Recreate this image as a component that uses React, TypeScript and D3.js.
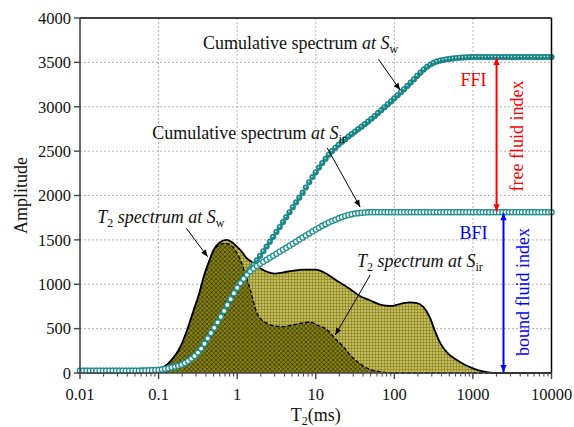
import React from 'react';
import * as d3 from 'd3';

// ---------- data ----------
// T2 bins: 24 bins per decade from 0.01 ms to 10000 ms (145 bins)
const BINS_PER_DECADE = 24;
const T2_START_EXP = -2;
const cumulativeSw = [
  25, 25, 25, 25, 25, 25, 25, 25, 25, 25, 25, 25, 25, 25, 25, 25, 25, 25,
  26, 27, 28, 29, 31, 33, 35, 40, 46, 54, 63, 72, 82, 94, 112, 135, 162, 192,
  230, 275, 330, 390, 450, 510, 570, 634, 700, 766, 832, 898, 960, 1015, 1068,
  1120, 1170, 1220, 1270, 1320, 1372, 1425, 1480, 1534, 1590, 1645, 1700, 1756,
  1812, 1868, 1922, 1976, 2032, 2090, 2150, 2208, 2262, 2315, 2365, 2413, 2460,
  2500, 2538, 2572, 2605, 2635, 2664, 2692, 2720, 2748, 2776, 2804, 2834, 2864,
  2895, 2928, 2960, 2995, 3028, 3060, 3095, 3130, 3163, 3198, 3235, 3272, 3310,
  3348, 3385, 3420, 3450, 3475, 3495, 3510, 3520, 3528, 3535, 3540, 3545, 3549,
  3552, 3555, 3557, 3559,
  3560, 3560, 3560, 3560, 3560, 3560, 3560, 3560, 3560, 3560, 3560, 3560, 3560,
  3560, 3560, 3560, 3560, 3560, 3560, 3560, 3560, 3560, 3560, 3560, 3560,
];
const cumulativeSir = [
  25, 25, 25, 25, 25, 25, 25, 25, 25, 25, 25, 25, 25, 25, 25, 25, 25, 25,
  26, 27, 28, 29, 31, 33, 35, 40, 46, 54, 63, 72, 82, 94, 112, 135, 162, 192,
  230, 275, 330, 390, 450, 510, 570, 634, 700, 766, 832, 898,
  960, 1013, 1062, 1106, 1145, 1178, 1205, 1230, 1254, 1277, 1300, 1322, 1344,
  1366, 1388, 1410, 1433, 1456, 1480, 1503, 1527, 1550, 1573, 1595, 1617, 1638,
  1658, 1677, 1695, 1712, 1728, 1744, 1758, 1770, 1780, 1789, 1796, 1801, 1805,
  1808, 1810,
  1811, 1811, 1811, 1811, 1811, 1811, 1811, 1811, 1811, 1811, 1811, 1811, 1811,
  1811, 1811, 1811, 1811, 1811, 1811, 1811, 1811, 1811, 1811, 1811, 1811, 1811,
  1811, 1811, 1811, 1811, 1811, 1811, 1811, 1811, 1811, 1811, 1811, 1811, 1811,
  1811, 1811, 1811, 1811, 1811, 1811, 1811, 1811, 1811, 1811, 1811, 1811, 1811,
  1811, 1811, 1811, 1811,
];

// T2 spectra
const specSwT = [0.01, 0.04, 0.06, 0.08, 0.1, 0.13, 0.16, 0.19, 0.23, 0.28, 0.33, 0.375, 0.44, 0.5, 0.6, 0.73, 0.85, 1.0, 1.1, 1.3, 1.62, 2.0, 2.4, 3.0, 3.9, 5, 7, 10, 13, 18, 27, 36, 49, 66, 90, 120, 160, 190, 234, 285, 330, 383, 470, 624, 800, 1000, 1300, 1650, 2000, 10000];
const specSwA = [0, 0, 5, 20, 40, 100, 190, 296, 480, 710, 900, 1085, 1260, 1386, 1470, 1500, 1475, 1420, 1386, 1300, 1236, 1175, 1141, 1120, 1135, 1150, 1165, 1165, 1130, 1048, 950, 870, 820, 770, 755, 780, 795, 790, 745, 620, 470, 340, 230, 146, 90, 53, 20, 5, 0, 0];
const specSirT = [0.01, 0.04, 0.06, 0.08, 0.1, 0.13, 0.16, 0.19, 0.23, 0.28, 0.33, 0.375, 0.44, 0.5, 0.6, 0.7, 0.82, 0.95, 1.1, 1.3, 1.47, 1.79, 2.0, 2.4, 3.0, 3.9, 5.0, 6.9, 8.5, 10.4, 13.8, 18, 22.5, 27.5, 36, 49, 65, 80, 100, 10000];
const specSirA = [0, 0, 5, 20, 40, 100, 190, 296, 480, 710, 900, 1085, 1255, 1375, 1445, 1461, 1442, 1380, 1273, 1090, 935, 673, 610, 560, 530, 522, 540, 565, 575, 540, 490, 380, 296, 200, 109, 40, 15, 5, 0, 0];

const xTicks = [0.01, 0.1, 1, 10, 100, 1000, 10000];
const xTickLabels = ['0.01', '0.1', '1', '10', '100', '1000', '10000'];
const yTicks = [0, 500, 1000, 1500, 2000, 2500, 3000, 3500, 4000];

// ---------- layout ----------
const W = 574, H = 427;
const L = 80, R = 551.5, T = 18, B = 373;
const FONT = "'Liberation Serif', 'Times New Roman', Times, serif";

const x = d3.scaleLog().domain([0.01, 10000]).range([L, R]);
const y = d3.scaleLinear().domain([0, 4000]).range([B, T]);

const bins = cumulativeSw.map((_, i) => Math.pow(10, T2_START_EXP + i / BINS_PER_DECADE));

const area = (ts: number[], as: number[]) =>
  d3.area<number>().x((_, i) => x(ts[i])).y0(y(0)).y1((d) => y(d)).curve(d3.curveMonotoneX)(as) || '';
const line = (ts: number[], as: number[]) =>
  d3.line<number>().x((_, i) => x(ts[i])).y((d) => y(d)).curve(d3.curveMonotoneX)(as) || '';

const minorTicks: number[] = [];
[0.01, 0.1, 1, 10, 100, 1000].forEach((d) => {
  for (let k = 2; k <= 9; k++) minorTicks.push(d * k);
});

const TEAL = '#1c8e8e';

export default function App() {
  return (
    <svg width={W} height={H} style={{ position: 'absolute', left: 0, top: 0, background: '#fff', fontFamily: FONT }}>
      <defs>
        <pattern id="gridPat" width="3" height="3" patternUnits="userSpaceOnUse">
          <rect width="3" height="3" fill="#c4bc62" />
          <path d="M0 0.5H3M0.5 0V3" stroke="#928b26" strokeWidth="0.8" />
        </pattern>
        <pattern id="crossPat" width="4.5" height="4.5" patternUnits="userSpaceOnUse">
          <rect width="4.5" height="4.5" fill="#878212" />
          <path d="M0 0L4.5 4.5M4.5 0L0 4.5" stroke="#26250a" strokeWidth="0.65" />
        </pattern>
        <marker id="ahBlack" viewBox="0 0 10 10" refX="10" refY="5" markerWidth="8" markerHeight="7" markerUnits="userSpaceOnUse" orient="auto">
          <path d="M0,1L10,5L0,9z" fill="#000" />
        </marker>
        <marker id="ahRed" viewBox="0 0 10 10" refX="10" refY="5" markerWidth="9" markerHeight="7" markerUnits="userSpaceOnUse" orient="auto-start-reverse">
          <path d="M0,0.5L10,5L0,9.5z" fill="#ff0000" />
        </marker>
        <marker id="ahBlue" viewBox="0 0 10 10" refX="10" refY="5" markerWidth="9" markerHeight="7" markerUnits="userSpaceOnUse" orient="auto-start-reverse">
          <path d="M0,0.5L10,5L0,9.5z" fill="#0000ff" />
        </marker>
      </defs>

      {/* grid */}
      {xTicks.slice(1, -1).map((t) => (
        <line key={'gx' + t} x1={x(t)} x2={x(t)} y1={T} y2={B} stroke="#b4b4b4" strokeDasharray="2,2" strokeWidth={1} />
      ))}
      {yTicks.slice(1, -1).map((t) => (
        <line key={'gy' + t} x1={L} x2={R} y1={y(t)} y2={y(t)} stroke="#b4b4b4" strokeDasharray="2,2" strokeWidth={1} />
      ))}

      {/* spectra */}
      <path d={area(specSwT, specSwA)} fill="url(#gridPat)" />
      <path d={area(specSirT, specSirA)} fill="url(#crossPat)" />
      <path d={line(specSirT, specSirA)} fill="none" stroke="#000" strokeWidth={1.3} strokeDasharray="4,2" />
      <path d={line(specSwT, specSwA)} fill="none" stroke="#000" strokeWidth={1.8} />

      {/* cumulative Sw: filled markers */}
      {cumulativeSw.map((v, i) => (
        <g key={'sw' + i}>
          <circle cx={x(bins[i])} cy={y(v)} r={2.8} fill={TEAL} stroke="#0e6e6e" strokeWidth={0.6} />
          <circle cx={x(bins[i]) - 0.6} cy={y(v) - 0.6} r={0.8} fill="#cfeeee" />
        </g>
      ))}
      {/* cumulative Sir: open markers */}
      {cumulativeSir.map((v, i) => (
        <circle key={'sir' + i} cx={x(bins[i])} cy={y(v)} r={2.6} fill="#fff" stroke={TEAL} strokeWidth={1.3} />
      ))}

      {/* frame */}
      <line x1={L} x2={R} y1={T} y2={T} stroke="#000" strokeWidth={1.5} />
      <line x1={R} x2={R} y1={T} y2={B} stroke="#000" strokeWidth={1.5} />
      <line x1={L} x2={L} y1={T} y2={B} stroke="#444" strokeWidth={1.6} />
      <line x1={L} x2={R} y1={B} y2={B} stroke="#444" strokeWidth={1.6} />

      {/* y axis ticks */}
      {yTicks.map((t) => (
        <g key={'yt' + t}>
          <line x1={L - 6} x2={L} y1={y(t)} y2={y(t)} stroke="#444" strokeWidth={1.4} />
          <text x={L - 9} y={y(t)} dy="0.35em" textAnchor="end" fontSize={16.5} fill="#111">{t}</text>
        </g>
      ))}
      {/* x axis ticks */}
      {xTicks.map((t, i) => (
        <g key={'xt' + t}>
          <line x1={x(t)} x2={x(t)} y1={B} y2={B + 6} stroke="#444" strokeWidth={1.4} />
          <text x={x(t)} y={B + 27} textAnchor="middle" fontSize={16.5} fill="#111">{xTickLabels[i]}</text>
        </g>
      ))}
      {minorTicks.map((t) => (
        <line key={'mt' + t} x1={x(t)} x2={x(t)} y1={B} y2={B + 3.5} stroke="#444" strokeWidth={1} />
      ))}

      {/* axis titles */}
      <text transform={`translate(27,${(T + B) / 2}) rotate(-90)`} textAnchor="middle" fontSize={18} fill="#111">Amplitude</text>
      <text x={(L + R) / 2} y={421} textAnchor="middle" fontSize={18} fill="#111">
        T<tspan fontSize={12} dy={4}>2</tspan><tspan dy={-4}>(ms)</tspan>
      </text>

      {/* annotations */}
      <text x={x(0.368)} y={y(3651)} fontSize={18} fill="#111">
        Cumulative spectrum <tspan fontStyle="italic">at S</tspan><tspan fontSize={12} dy={4}>w</tspan>
      </text>
      <line x1={x(62.7)} y1={y(3535)} x2={x(118.6)} y2={y(3189)} stroke="#000" strokeWidth={1} markerEnd="url(#ahBlack)" />

      <text x={x(0.0828)} y={y(2637)} fontSize={18} fill="#111">
        Cumulative spectrum <tspan fontStyle="italic">at S</tspan><tspan fontSize={12} dy={4}>ir</tspan>
      </text>
      <line x1={x(14.0)} y1={y(2535)} x2={x(36.7)} y2={y(1870)} stroke="#000" strokeWidth={1} markerEnd="url(#ahBlack)" />

      <text x={x(0.01655)} y={y(1690)} fontSize={18} fill="#111" fontStyle="italic">
        T<tspan fontSize={12} dy={4} fontStyle="normal">2</tspan><tspan dy={-4}> spectrum at S</tspan><tspan fontSize={12} dy={4} fontStyle="normal">w</tspan>
      </text>
      <line x1={x(0.226)} y1={y(1630)} x2={x(0.421)} y2={y(1310)} stroke="#000" strokeWidth={1} markerEnd="url(#ahBlack)" />

      <text x={x(33.4)} y={y(1194)} fontSize={18} fill="#111" fontStyle="italic">
        T<tspan fontSize={12} dy={4} fontStyle="normal">2</tspan><tspan dy={-4}> spectrum at S</tspan><tspan fontSize={12} dy={4} fontStyle="normal">ir</tspan>
      </text>
      <line x1={x(49.3)} y1={y(1104)} x2={x(17.7)} y2={y(428)} stroke="#000" strokeWidth={1} markerEnd="url(#ahBlack)" />

      {/* FFI / BFI */}
      <text x={x(1014)} y={y(3234)} textAnchor="middle" fontSize={18} fill="#ff0000">FFI</text>
      <line x1={x(2000)} x2={x(2000)} y1={y(3560) + 1} y2={y(1811) - 1} stroke="#ff0000" strokeWidth={2} markerStart="url(#ahRed)" markerEnd="url(#ahRed)" />
      <text transform={`translate(${x(4340)},${y(2670)}) rotate(-90)`} textAnchor="middle" fontSize={18} fill="#ff0000">free fluid index</text>

      <text x={x(1014)} y={y(1510)} textAnchor="middle" fontSize={18} fill="#0000ff">BFI</text>
      <line x1={x(2450)} x2={x(2450)} y1={y(1811) + 1} y2={y(0) - 1} stroke="#0000ff" strokeWidth={2} markerStart="url(#ahBlue)" markerEnd="url(#ahBlue)" />
      <text transform={`translate(${x(5175)},${y(913)}) rotate(-90)`} textAnchor="middle" fontSize={18} fill="#0000ff">bound fluid index</text>
    </svg>
  );
}
